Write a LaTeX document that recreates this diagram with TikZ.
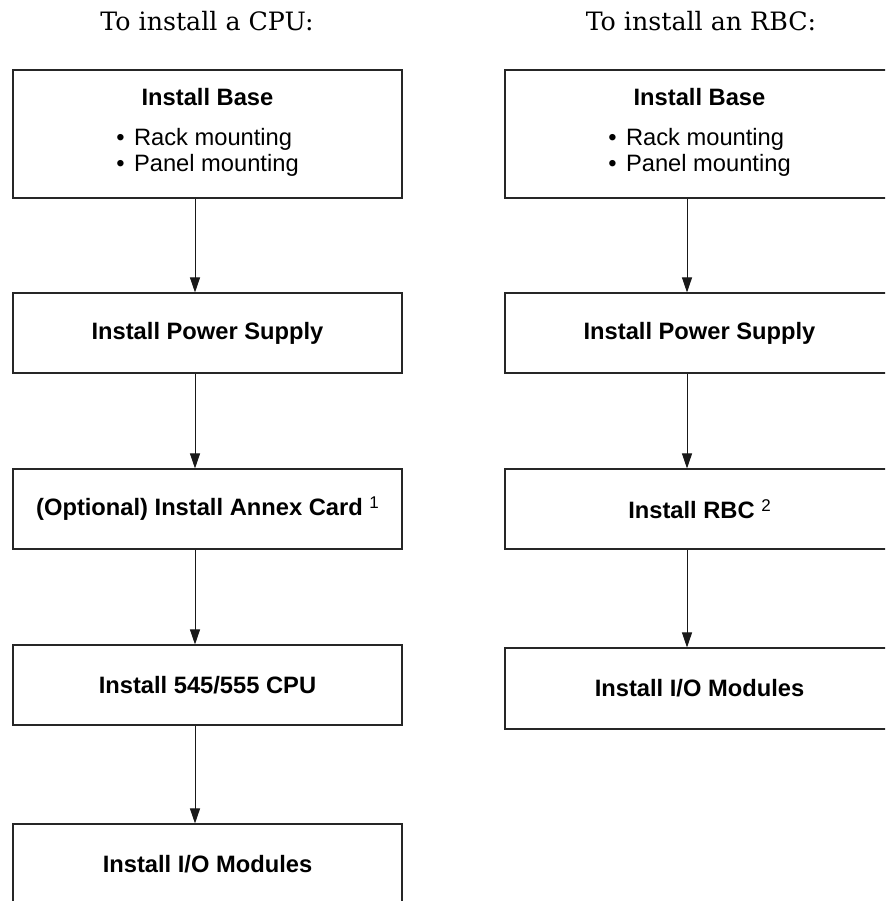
\documentclass[tikz,border=0pt]{standalone}
\usepackage{fontspec}
\newfontfamily\sansf{Liberation Sans}
\newfontfamily\titlef{DejaVu Serif}
\usetikzlibrary{arrows.meta}
\begin{document}
\begin{tikzpicture}[x=1pt,y=-1pt,
  box/.style={draw=black!85, line width=1.1pt, minimum width=389pt, minimum height=80pt, inner sep=0pt,
    font=\sansf\fontsize{23.7}{26}\selectfont\bfseries, align=center},
  flow/.style={draw=black!90, line width=0.9pt, -{Triangle[length=15pt,width=10pt]}},
  ttl/.style={font=\titlef\fontsize{25.3}{30}\selectfont, inner sep=0pt, anchor=base}]
\useasboundingbox (0,0) rectangle (885,901);
\clip (0,0) rectangle (885,901);
\fill[white] (0,0) rectangle (885,901);

% titles
\node[ttl] (t1) at (207,31) {To install a CPU:};
\node[ttl] (t2) at (701,31) {To install an RBC:};

% left column
\node[box, minimum height=128pt] (b1) at (207.5,134) {Install Base\\[14pt]{\mdseries\begin{tabular}[t]{@{}l@{}}\textbullet\hspace{0.4em}Rack mounting\\\textbullet\hspace{0.4em}Panel mounting\end{tabular}}};
\node[box] (b2) at (207.5,333) {Install Power Supply};
\node[box] (b3) at (207.5,509) {(Optional) Install Annex Card {\mdseries\raisebox{7pt}{\fontsize{17}{17}\selectfont 1}}};
\node[box] (b4) at (207.5,685) {Install 545/555 CPU};
\node[box] (b5) at (207.5,864) {Install I/O Modules};

% right column
\node[box, minimum height=128pt] (r1) at (699.5,134) {Install Base\\[14pt]{\mdseries\begin{tabular}[t]{@{}l@{}}\textbullet\hspace{0.4em}Rack mounting\\\textbullet\hspace{0.4em}Panel mounting\end{tabular}}};
\node[box] (r2) at (699.5,333) {Install Power Supply};
\node[box] (r3) at (699.5,509) {Install RBC {\mdseries\raisebox{7pt}{\fontsize{17}{17}\selectfont 2}}};
\node[box, minimum height=81pt] (r4) at (699.5,688.5) {Install I/O Modules};

% connectors
\draw[flow] ([xshift=-12.5pt]b1.south) -- ([xshift=-12.5pt]b2.north);
\draw[flow] ([xshift=-12.5pt]b2.south) -- ([xshift=-12.5pt]b3.north);
\draw[flow] ([xshift=-12.5pt]b3.south) -- ([xshift=-12.5pt]b4.north);
\draw[flow] ([xshift=-12.5pt]b4.south) -- ([xshift=-12.5pt]b5.north);
\draw[flow] ([xshift=-12.5pt]r1.south) -- ([xshift=-12.5pt]r2.north);
\draw[flow] ([xshift=-12.5pt]r2.south) -- ([xshift=-12.5pt]r3.north);
\draw[flow] ([xshift=-12.5pt]r3.south) -- ([xshift=-12.5pt]r4.north);
\end{tikzpicture}
\end{document}
